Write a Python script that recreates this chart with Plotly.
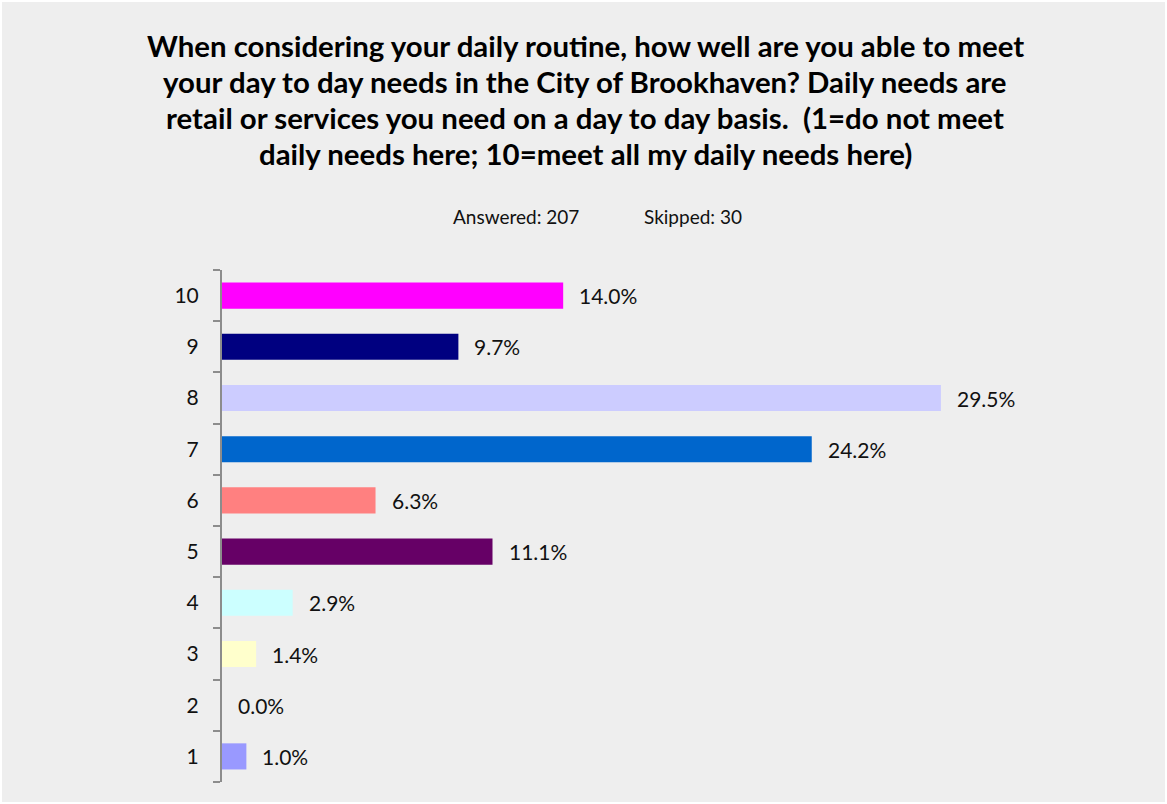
import plotly.graph_objects as go

categories = ["1", "2", "3", "4", "5", "6", "7", "8", "9", "10"]
values = [1.0, 0.0, 1.4, 2.9, 11.1, 6.3, 24.2, 29.5, 9.7, 14.0]
colors = ["#9999FF", "#9999FF", "#FFFFCC", "#CCFFFF", "#660066", "#FF8080",
          "#0066CC", "#CCCCFF", "#000080", "#FF00FF"]
title_lines = [
    "When considering your daily routine, how well are you able to meet",
    "your day to day needs in the City of Brookhaven? Daily needs are",
    "retail or services you need on a day to day basis.  (1=do not meet",
    "daily needs here; 10=meet all my daily needs here)",
]
answered = "Answered: 207"
skipped = "Skipped: 30"

W, H = 1167, 804
ML, MR, MT, MB = 222, 92, 270, 22
PW, PH = W - ML - MR, H - MT - MB
FONT = "Lato"

def px(x):
    return (x - ML) / PW

def py(y):
    return 1 - (y - MT) / PH

fig = go.Figure()
fig.add_trace(go.Bar(
    y=list(range(len(categories))), x=values, orientation="h",
    marker=dict(color=colors, line=dict(width=0)),
    hoverinfo="skip",
))

annotations = []
for i, v in enumerate(values):
    annotations.append(dict(
        x=v, y=i, xref="x", yref="y", text=f"{v:.1f}%", showarrow=False,
        xanchor="left", yanchor="middle", xshift=14,
        font=dict(family=FONT, size=21, color="#111111"),
    ))
for i, line in enumerate(title_lines):
    annotations.append(dict(
        x=px(585), y=py(45 + 36 * i), xref="paper", yref="paper", text=f"<b>{line}</b>",
        showarrow=False, xanchor="center", yanchor="middle",
        font=dict(family=FONT, size=29.4, color="#000000"),
    ))
annotations.append(dict(
    x=px(451), y=py(216), xref="paper", yref="paper", text=answered, showarrow=False,
    xanchor="left", yanchor="middle", font=dict(family=FONT, size=19, color="#111111"),
))
annotations.append(dict(
    x=px(642), y=py(216), xref="paper", yref="paper", text=skipped, showarrow=False,
    xanchor="left", yanchor="middle", font=dict(family=FONT, size=19, color="#111111"),
))

fig.update_layout(
    width=W, height=H,
    margin=dict(l=ML, r=MR, t=MT, b=MB, pad=0, autoexpand=False),
    paper_bgcolor="#FFFFFF",
    plot_bgcolor="rgba(0,0,0,0)",
    showlegend=False,
    bargap=0.49,
    annotations=annotations,
    shapes=[dict(type="rect", xref="paper", yref="paper", layer="below",
                 x0=px(2), x1=px(W - 2), y0=py(H - 2), y1=py(2),
                 fillcolor="#EEEEEE", line=dict(width=0))],
)
fig.update_xaxes(range=[0, PW / 24.37], visible=False, fixedrange=True, automargin=False)
fig.update_yaxes(
    range=[-0.5, len(categories) - 0.5],
    tickmode="array", tickvals=list(range(len(categories))), ticktext=categories,
    showline=True, linecolor="#8C8C8C", linewidth=2,
    ticks="", showgrid=False, zeroline=False, ticklabelstandoff=17,
    tickfont=dict(family=FONT, size=21, color="#111111"),
    fixedrange=True, automargin=False,
)
# minor ticks at category boundaries
fig.update_yaxes(minor=dict(tickmode="array",
                            tickvals=[i - 0.5 for i in range(len(categories) + 1)],
                            ticks="outside", ticklen=7, tickcolor="#8C8C8C", tickwidth=2,
                            showgrid=False))

fig.write_html("out.html", post_script="document.body.style.margin='0px';",
               config={"displayModeBar": False})
